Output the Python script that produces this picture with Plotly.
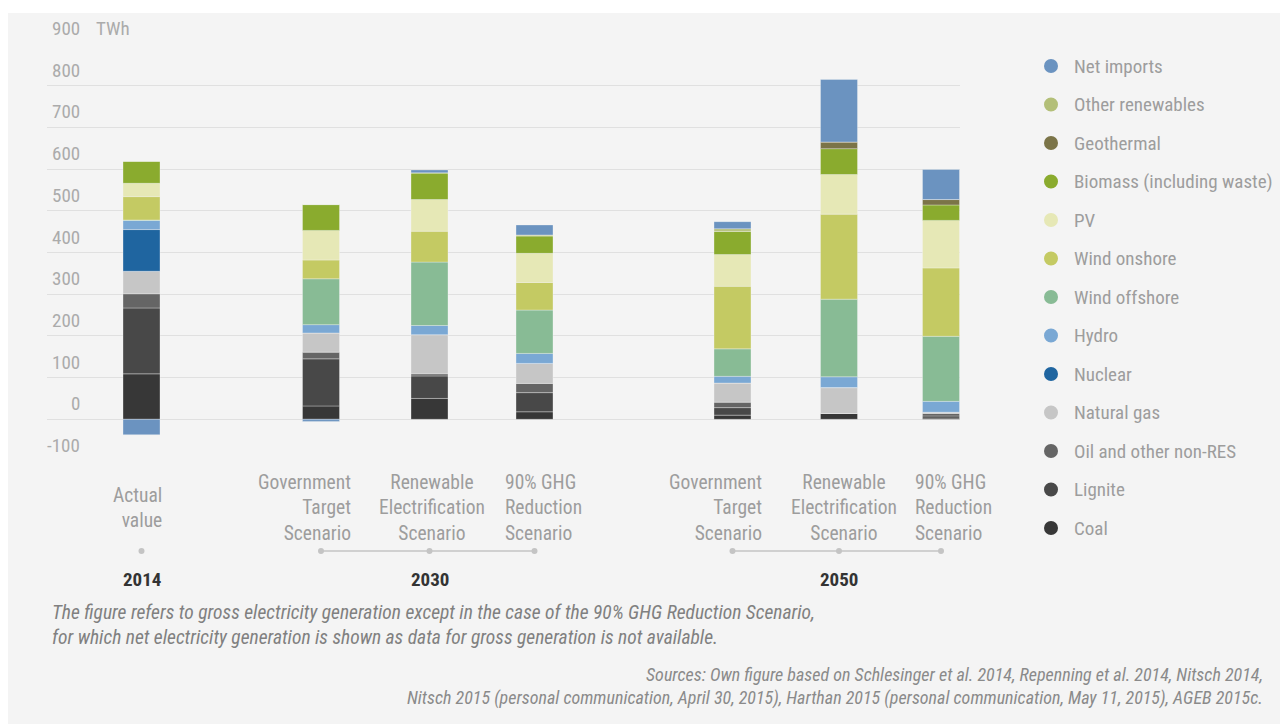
import plotly.graph_objects as go

# ---------------- data ----------------
BAR_LABELS = [
    "Actual\nvalue",
    "Government\nTarget\nScenario",
    "Renewable\nElectrification\nScenario",
    "90% GHG\nReduction\nScenario",
    "Government\nTarget\nScenario",
    "Renewable\nElectrification\nScenario",
    "90% GHG\nReduction\nScenario",
]
YEARS = ["2014", "2030", "2050"]
YEAR_OF_BAR = [0, 1, 1, 1, 2, 2, 2]

COAL = [109, 32, 50, 18, 10, 14, 3]
LIGNITE = [158, 113, 54, 46, 18, 0, 5]
OIL_OTHER = [34, 16, 5, 22, 13, 0, 6]
NATURAL_GAS = [54, 46, 94, 48, 46, 62, 3]
NUCLEAR = [100, 0, 0, 0, 0, 0, 0]
HYDRO = [22, 20, 22, 24, 16, 26, 26]
WIND_OFFSHORE = [1, 110, 152, 104, 66, 186, 156]
WIND_ONSHORE = [56, 45, 74, 66, 150, 204, 164]
PV = [32, 71, 76, 70, 76, 95, 114]
BIOMASS = [53, 62, 64, 42, 56, 62, 37]
GEOTHERMAL = [0, 0, 0, 0, 0, 16, 13]
OTHER_RENEWABLES = [0, 0, 0, 2, 6, 0, 0]
NET_IMPORTS = [-37, -5, 7, 24, 17, 150, 72]

Y_TICKS = [-100, 0, 100, 200, 300, 400, 500, 600, 700, 800, 900]
Y_UNIT = "TWh"

FOOTNOTE = [
    "The figure refers to gross electricity generation except in the case of the 90% GHG Reduction Scenario,",
    "for which net electricity generation is shown as data for gross generation is not available.",
]
SOURCES = [
    "Sources: Own figure based on Schlesinger et al. 2014, Repenning et al. 2014, Nitsch 2014,",
    "Nitsch 2015 (personal communication, April 30, 2015), Harthan 2015 (personal communication, May 11, 2015), AGEB 2015c.",
]

# series bottom -> top : (name, values, colour)
SERIES = [
    ("Coal", COAL, "#373737"),
    ("Lignite", LIGNITE, "#484848"),
    ("Oil and other non-RES", OIL_OTHER, "#656565"),
    ("Natural gas", NATURAL_GAS, "#c6c6c6"),
    ("Nuclear", NUCLEAR, "#1f65a0"),
    ("Hydro", HYDRO, "#7aa8d4"),
    ("Wind offshore", WIND_OFFSHORE, "#88bb95"),
    ("Wind onshore", WIND_ONSHORE, "#c4ca63"),
    ("PV", PV, "#e6e8b6"),
    ("Biomass (including waste)", BIOMASS, "#8aab2e"),
    ("Geothermal", GEOTHERMAL, "#7b7448"),
    ("Other renewables", OTHER_RENEWABLES, "#b3bf78"),
    ("Net imports", NET_IMPORTS, "#6b93c0"),
]

# ---------------- layout constants ----------------
W, H = 1280, 724
PL, PR, PT, PB = 47, 960, 44, 461          # plot area in pixels
X_POS = [141.5, 321, 429.5, 534.5, 732.5, 839, 941]   # bar centres on x axis (pixel-like units)
LABEL_ANCHOR = ["right", "right", "center", "left", "right", "center", "left"]
LABEL_SHIFT = [22, 32, 2, -32, 31, 5, -28]
LABEL_CENTER_Y = 507.5
BAR_W = 37
FONT = "Roboto Condensed, Roboto, sans-serif"
GREY = "#9d9d9d"


def py2paper(py):
    return (PB - py) / (PB - PT)


def px2paper(px):
    return (px - PL) / (PR - PL)


fig = go.Figure()
for name, vals, col in SERIES:
    fig.add_trace(go.Bar(
        x=X_POS, y=vals, name=name, width=BAR_W,
        marker=dict(color=col, line=dict(width=0.6, color="rgba(245,245,245,0.55)")),
        showlegend=False,
    ))

shapes = []
annotations = []

# background panel
shapes.append(dict(type="rect", xref="paper", yref="paper", layer="below",
                   x0=px2paper(8), x1=px2paper(W + 5), y0=py2paper(H + 5), y1=py2paper(13),
                   fillcolor="#f4f4f4", line=dict(width=0)))

# y tick labels (above gridlines, right aligned)
for v in Y_TICKS:
    annotations.append(dict(xref="paper", yref="y", x=px2paper(82), y=v, xanchor="right",
                            yanchor="bottom", yshift=2, showarrow=False, text=str(v),
                            font=dict(family=FONT, size=19, color="#ababab")))
annotations.append(dict(xref="paper", yref="y", x=px2paper(94), y=Y_TICKS[-1], xanchor="left",
                        yanchor="bottom", yshift=2, showarrow=False, text=Y_UNIT,
                        font=dict(family=FONT, size=19, color="#ababab")))

# bar labels
for i, lab in enumerate(BAR_LABELS):
    annotations.append(dict(xref="x", yref="paper", x=X_POS[i], xshift=LABEL_SHIFT[i],
                            y=py2paper(LABEL_CENTER_Y), yanchor="middle",
                            xanchor=LABEL_ANCHOR[i], align=LABEL_ANCHOR[i],
                            showarrow=False, text=lab.replace("\n", "<br>"),
                            font=dict(family=FONT, size=19.5, color=GREY)))

# year connectors, dots and year labels
DOT_Y = py2paper(551)
for yi, yr in enumerate(YEARS):
    xs = [X_POS[i] for i in range(len(X_POS)) if YEAR_OF_BAR[i] == yi]
    if len(xs) > 1:
        shapes.append(dict(type="line", xref="x", yref="paper", x0=xs[0], x1=xs[-1],
                           y0=DOT_Y, y1=DOT_Y, line=dict(color="#c4c4c4", width=1.5)))
    for x in xs:
        shapes.append(dict(type="circle", xref="x", yref="paper", xsizemode="pixel",
                           ysizemode="pixel", xanchor=x, yanchor=DOT_Y, x0=-3, x1=3, y0=-3, y1=3,
                           fillcolor="#c4c4c4", line=dict(width=0)))
    annotations.append(dict(xref="x", yref="paper", x=xs[len(xs) // 2], y=py2paper(579),
                            yanchor="middle", xanchor="center", showarrow=False,
                            text="<b>%s</b>" % yr,
                            font=dict(family=FONT, size=19, color="#333333")))

# legend (top -> bottom)
for k, (name, vals, col) in enumerate(reversed(SERIES)):
    py = 66 + 38.5 * k
    shapes.append(dict(type="circle", xref="paper", yref="paper", xsizemode="pixel",
                       ysizemode="pixel", xanchor=px2paper(1051), yanchor=py2paper(py),
                       x0=-7, x1=7, y0=-7, y1=7, fillcolor=col, line=dict(width=0)))
    annotations.append(dict(xref="paper", yref="paper", x=px2paper(1072), y=py2paper(py),
                            xanchor="left", yanchor="middle", showarrow=False, text=name,
                            font=dict(family=FONT, size=19, color=GREY)))

# footnote and sources
annotations.append(dict(xref="paper", yref="paper", x=px2paper(50), y=py2paper(625),
                        xanchor="left", yanchor="middle", align="left", showarrow=False,
                        text="<br>".join("<i>%s</i>" % s for s in FOOTNOTE),
                        font=dict(family=FONT, size=19.5, color="#808080")))
annotations.append(dict(xref="paper", yref="paper", x=px2paper(1265), y=py2paper(686),
                        xanchor="right", yanchor="middle", align="right", showarrow=False,
                        text="<br>".join("<i>%s</i>" % s for s in SOURCES),
                        font=dict(family=FONT, size=18, color="#8a8a8a")))

fig.update_layout(
    width=W, height=H,
    margin=dict(l=PL, r=W - PR, t=PT, b=H - PB, pad=0),
    barmode="relative",
    paper_bgcolor="white",
    plot_bgcolor="rgba(0,0,0,0)",
    showlegend=False,
    shapes=shapes,
    annotations=annotations,
    xaxis=dict(range=[PL, PR], showgrid=False, zeroline=False, showticklabels=False,
               showline=False, ticks="", fixedrange=True),
    yaxis=dict(range=[Y_TICKS[0], Y_TICKS[-1]], tickvals=Y_TICKS, showticklabels=False,
               showgrid=True, gridcolor="#e0e0e0", gridwidth=1, zeroline=False,
               showline=False, ticks="", fixedrange=True),
    font=dict(family=FONT),
)

fig.write_html(
    "out.html",
    config={"displayModeBar": False},
    post_script="document.body.style.margin='0';document.body.style.overflow='hidden';",
)
